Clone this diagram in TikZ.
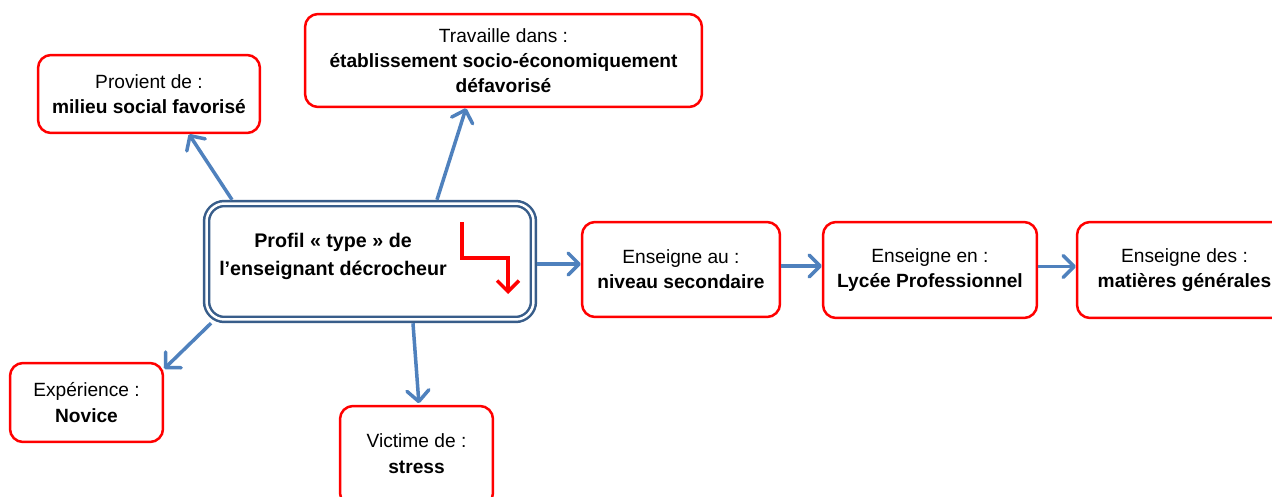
\documentclass[tikz,border=0pt]{standalone}
\usepackage{fontspec}
\setmainfont{Liberation Sans}
\usetikzlibrary{arrows.meta}
\definecolor{cadrerouge}{RGB}{255,0,0}
\definecolor{flechebleue}{RGB}{79,129,189}
\definecolor{cadrebleu}{RGB}{56,93,138}
\tikzset{
  boite/.style={draw=cadrerouge, line width=0.05cm, rounded corners=0.26cm,
    fill=white, align=center, inner sep=0pt,
    font=\fontsize{10.9}{14.4}\selectfont},
  fleche/.style={color=flechebleue, line width=0.07cm,
    -{Straight Barb[length=0.22cm,width=0.44cm,round]}},
}
\begin{document}
\begin{tikzpicture}[x=0.02cm, y=-0.02cm]
      \useasboundingbox (0,0) rectangle (1272,497);
      \clip (0,0) rectangle (1272,497);
      \fill[white] (0,0) rectangle (1272,497);
      % profil central
      \node[draw=cadrebleu, line width=0.05cm, double=white, double distance=0.05cm,
        rounded corners=0.36cm, minimum width=6.54cm, minimum height=2.32cm,
        outer sep=0.075cm] (prof) at (370,261.5) {};
      \node[align=center, font=\bfseries\fontsize{11.2}{15.6}\selectfont]
        (proftxt) at (333,256.5) {Profil « type » de\\l’enseignant décrocheur};
      \draw[red, line width=0.07cm, -{Straight Barb[length=0.22cm,width=0.44cm]}]
        (462,222) |- (508,258) -- (508,294);
      % caracteristiques
      \node[boite, minimum width=4.44cm, minimum height=1.56cm] (prov) at (149,94)
        {Provient de :\\\textbf{milieu social favorisé}};
      \node[boite, minimum width=7.94cm, minimum height=1.86cm] (trav) at (503.5,60.5)
        {Travaille dans :\\\textbf{établissement socio-économiquement}\\\textbf{défavorisé}};
      \node[boite, minimum width=3.96cm, minimum height=1.9cm] (sec) at (681,269.5)
        {Enseigne au :\\\textbf{niveau secondaire}};
      \node[boite, minimum width=4.28cm, minimum height=1.92cm] (lp) at (930,270)
        {Enseigne en :\\\textbf{Lycée Professionnel}};
      \node[boite, minimum width=4.3cm, minimum height=1.92cm] (mat) at (1184.5,270)
        {Enseigne des :\\\textbf{matières générales}};
      \node[boite, minimum width=3.06cm, minimum height=1.58cm] (exp) at (86.5,402.5)
        {Expérience :\\\textbf{Novice}};
      \node[boite, minimum width=3.06cm, minimum height=2cm, text depth=0.1cm] (vict) at (416.5,456)
        {Victime de :\\\textbf{stress}};
      \begin{scope}[fleche]
        \draw ([xshift=-2.76cm]prof.north) to ([xshift=0.8cm]prov.south);
        \draw ([xshift=1.34cm]prof.north) to ([xshift=-0.75cm]trav.south);
        \draw ([yshift=-0.05cm]prof.east) to ([yshift=-0.05cm]prof.east -| sec.west);
        \draw ([yshift=0.07cm]sec.east) to ([yshift=0.07cm]sec.east -| lp.west);
        \draw ([yshift=0.07cm]lp.east) to ([yshift=0.07cm]lp.east -| mat.west);
        \draw ([xshift=-3.18cm]prof.south) to ([yshift=-0.14cm]exp.north east);
        \draw[shorten >=0.03cm] ([xshift=0.86cm]prof.south) to ([xshift=0.05cm]vict.north);
      \end{scope}
    \end{tikzpicture}
\end{document}
